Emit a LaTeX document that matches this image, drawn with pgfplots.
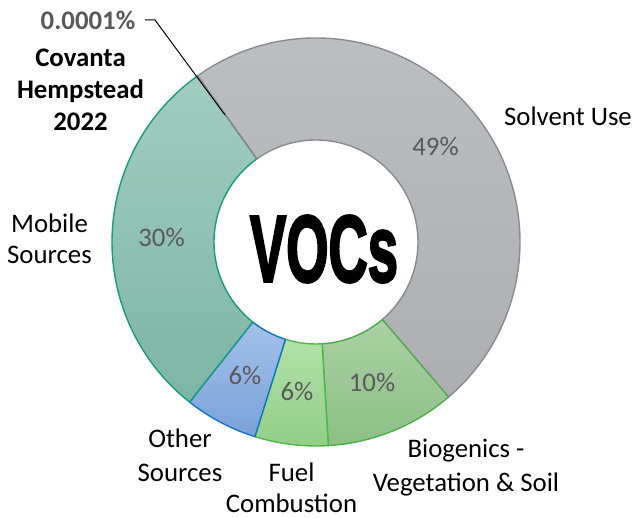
\documentclass[border=0pt]{standalone}
\usepackage{graphicx}
\usepackage{pgfplots}
\usepackage{pgfplotstable}
\pgfplotsset{compat=1.18}
\usepackage{fontspec}
\setmainfont{Carlito}
\newfontfamily\vocfont[FakeBold=3]{Liberation Sans}

% VOC emission shares (%), clockwise from the top-left
\pgfplotstableread{
sector value
Solvent 48.6
Biogenics 10.3
Fuel 5.8
Other 5.8
Mobile 29.5
Covanta 0.0001
}\vocdata

% fills (top/bottom) and borders, one per sector
\definecolor{tp0}{HTML}{BEBFC2}\definecolor{bt0}{HTML}{ADAEB2}\definecolor{bd0}{HTML}{8A8B8F}
\definecolor{tp1}{HTML}{ABD1A4}\definecolor{bt1}{HTML}{8DBE86}\definecolor{bd1}{HTML}{4CAE47}
\definecolor{tp2}{HTML}{B2E0AA}\definecolor{bt2}{HTML}{92CE88}\definecolor{bd2}{HTML}{4DB847}
\definecolor{tp3}{HTML}{A5C0EA}\definecolor{bt3}{HTML}{7AA2D9}\definecolor{bd3}{HTML}{1172C4}
\definecolor{tp4}{HTML}{A2CDC0}\definecolor{bt4}{HTML}{7DB5A4}\definecolor{bd4}{HTML}{179B7F}
\definecolor{tp5}{HTML}{BEBFC2}\definecolor{bt5}{HTML}{ADAEB2}\definecolor{bd5}{HTML}{8A8B8F}
\definecolor{pct}{HTML}{595959}

\tikzset{lab/.style={anchor=base, text=black, inner sep=0pt, font=\fontsize{26.8}{32}\selectfont}}

\begin{document}
\begin{tikzpicture}
\begin{axis}[
  at={(0,0)}, anchor=south west,
  x=1pt, y=1pt,
  xmin=0, xmax=634, ymin=0, ymax=518,
  enlargelimits=false,
  hide axis, clip=false,
]
\xdef\cur{125.5}
\pgfplotsforeachungrouped \i in {0,...,5}{%
  \pgfplotstablegetelem{\i}{value}\of\vocdata
  \pgfmathsetmacro\a{\cur}%
  \pgfmathsetmacro\b{\cur-3.6*\pgfplotsretval}%
  \edef\temp{\noexpand\draw[draw=bd\i, top color=tp\i, bottom color=bt\i, line width=1.4pt, line join=round]
    ([shift={(\a:204pt)}]axis cs:316,276) arc[start angle=\a, end angle=\b, radius=204pt]
    -- ([shift={(\b:102pt)}]axis cs:316,276) arc[start angle=\b, end angle=\a, radius=102pt] -- cycle;}%
  \temp
  \xdef\cur{\b}%
}
% percentage labels
\node[lab, text=pct] at (axis cs:435.5,362) {49\%};
\node[lab, text=pct] at (axis cs:372,126) {10\%};
\node[lab, text=pct] at (axis cs:297,117) {6\%};
\node[lab, text=pct] at (axis cs:245,133) {6\%};
\node[lab, text=pct] at (axis cs:161.5,271.3) {30\%};
% category labels
\node[lab] at (axis cs:568,392) {Solvent Use};
\node[lab] at (axis cs:49.5,285.7) {Mobile};
\node[lab] at (axis cs:49.5,254) {Sources};
\node[lab] at (axis cs:180,70) {Other};
\node[lab] at (axis cs:180,36.3) {Sources};
\node[lab] at (axis cs:291.5,36.3) {Fuel};
\node[lab] at (axis cs:291.5,5.3) {Combustion};
\node[lab] at (axis cs:466,60) {Biogenics -};
\node[lab] at (axis cs:466,26.3) {Vegetation \& Soil};
\node[lab, font=\fontsize{26.8}{32}\selectfont\bfseries] at (axis cs:80.5,451) {Covanta};
\node[lab, font=\fontsize{26.8}{32}\selectfont\bfseries] at (axis cs:80.5,419) {Hempstead};
\node[lab, font=\fontsize{26.8}{32}\selectfont\bfseries] at (axis cs:80.5,387) {2022};
\node[lab, text=pct, font=\fontsize{26.8}{32}\selectfont\bfseries] at (axis cs:88,488) {0.0001\%};
\draw[black, line width=1pt] (axis cs:145,498) -- (axis cs:155,498) -- (axis cs:225,403);
% centre title
\node[inner sep=0pt] at (axis cs:324,269) {\resizebox{148pt}{66pt}{\vocfont\bfseries VOCs}};
\end{axis}
\pgfresetboundingbox
\path[use as bounding box] (0,0) rectangle (634pt,518pt);
\end{tikzpicture}
\end{document}
